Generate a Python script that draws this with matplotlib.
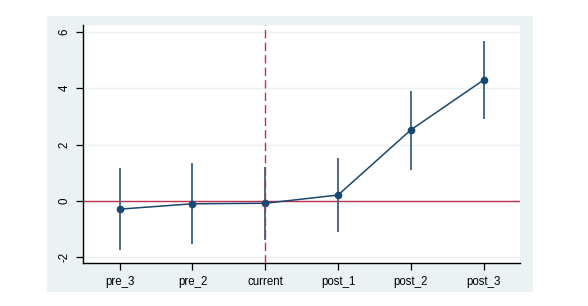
import matplotlib
matplotlib.use("Agg")
import matplotlib.pyplot as plt
from matplotlib.patches import Rectangle

# event-study estimates
periods = ["pre_3", "pre_2", "current", "post_1", "post_2", "post_3"]
coef = [-0.29, -0.10, -0.08, 0.21, 2.52, 4.29]
ci_low = [-1.74, -1.54, -1.38, -1.11, 1.10, 2.90]
ci_high = [1.16, 1.34, 1.22, 1.51, 3.91, 5.67]
yticks = [-2, 0, 2, 4, 6]

plt.rcParams['font.family'] = ['Liberation Sans', 'DejaVu Sans']

fig = plt.figure(figsize=(5.88, 3.06), dpi=100)
fig.patch.set_facecolor("white")
# Stata-like graph region
fig.patches.append(Rectangle((47 / 588, 1 - 292 / 306), (533 - 47) / 588, (292 - 16) / 306,
                             transform=fig.transFigure, facecolor="#eaf2f3",
                             edgecolor="none", zorder=-5))

ax = fig.add_axes([83.3 / 588, 1 - 263.3 / 306, (520 - 83.3) / 588, (263.3 - 25) / 306])
ax.set_facecolor("white")

x = list(range(len(periods)))
navy = "#1a476f"
ax.vlines(x, ci_low, ci_high, color="#4a6a8a", lw=1.4, zorder=3)
ax.plot(x, coef, color=navy, lw=1.1, marker="o", ms=4.5, zorder=4)
ax.axhline(0, color="#c0314f", lw=1.0, zorder=2)
ax.axvline(2, color="#c0314f", lw=1.0, ls=(0, (6, 3)), zorder=5)

ax.set_xlim(-0.5, 5.5)
ax.set_ylim(-2.21, 6.24)
ax.set_xticks(x)
ax.set_xticklabels(periods)
ax.set_yticks(yticks)
ax.set_yticklabels([str(v) for v in yticks], rotation=90, va="center")
ax.yaxis.grid(True, color="#eaf2f3", lw=1.0)
ax.set_axisbelow(True)

for side in ["top", "right"]:
    ax.spines[side].set_visible(False)
for side in ["left", "bottom"]:
    ax.spines[side].set_color("black")
    ax.spines[side].set_linewidth(1.0)
ax.tick_params(axis="both", direction="out", length=5, width=0.9, labelsize=8.3, colors="black", pad=4)

fig.savefig("out.png", dpi=100)
